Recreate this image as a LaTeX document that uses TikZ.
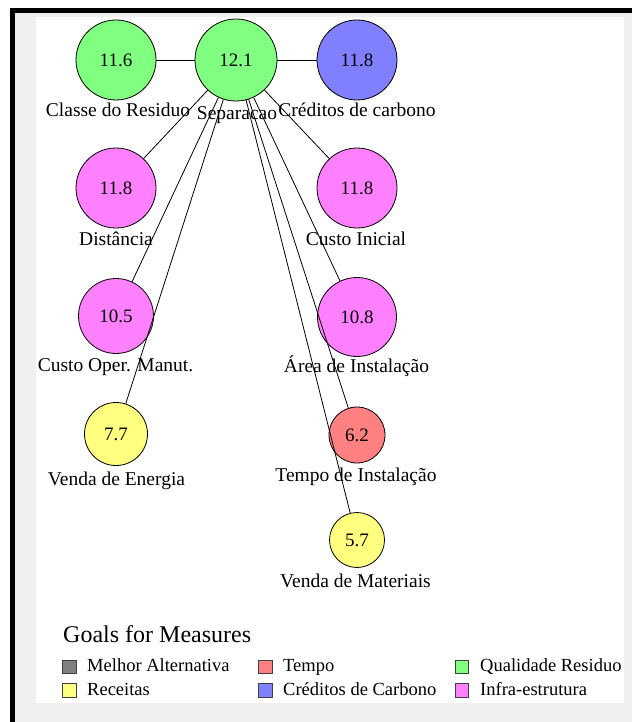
\documentclass[tikz,border=0pt]{standalone}
\usepackage{fontspec}
\setmainfont{Liberation Serif}
\usepackage{tikz}
\usetikzlibrary{positioning,backgrounds}

\definecolor{panelgray}{HTML}{F0F0F0}
\definecolor{goalgreen}{HTML}{80FF80}
\definecolor{goalblue}{HTML}{8080FF}
\definecolor{goalpink}{HTML}{FF80FF}
\definecolor{goalyellow}{HTML}{FFFF80}
\definecolor{goalred}{HTML}{FF8080}
\definecolor{goalgray}{HTML}{808080}

\begin{document}
\begin{tikzpicture}[x=1pt, y=-1pt,
  %% ── Node styles ──────────────────────────────────────────────────────────
  %% meas : one circle per measure, size given per node
  %% lbl  : measure name, placed by its baseline
  meas/.style={circle, draw=black, line width=0.8pt, inner sep=0pt,
               font=\fontsize{19}{22}\selectfont},
  lbl/.style={anchor=base, inner sep=0pt, font=\fontsize{19.5}{22}\selectfont},
  %% ── Legend styles ────────────────────────────────────────────────────────
  key/.style={draw=black!75, line width=1.2pt, minimum size=13.5pt, inner sep=0pt},
  keytxt/.style={anchor=base west, inner sep=0pt, font=\fontsize{18.5}{21}\selectfont},
  %% ── Link style ───────────────────────────────────────────────────────────
  link/.style={black, line width=0.8pt}
]

%% ── Frame: white page, black top/left rule, grey window, white panel ────────
\useasboundingbox (0,0) rectangle (632,722);
\fill[white]     (0,0)   rectangle (632,722);
\fill[panelgray] (10,8)  rectangle (632,722);
\fill[black]     (10,8)  rectangle (632,13);
\fill[black]     (10,8)  rectangle (15,722);
\fill[white]     (36,17) rectangle (624,703);

%% ── TOP ROW  (y = 60) ───────────────────────────────────────────────────────
\node[meas, fill=goalgreen, minimum size=82pt] (sep)  at (236,60) {12.1};
\node[meas, fill=goalgreen, minimum size=80pt] (cls)  at (116,60) {11.6};
\node[meas, fill=goalblue,  minimum size=80pt] (cred) at (357,60) {11.8};

%% ── LEFT COLUMN  (x = 116) ──────────────────────────────────────────────────
\node[meas, fill=goalpink,   minimum size=80pt] (dist) at (116,188) {11.8};
\node[meas, fill=goalpink,   minimum size=75pt] (com)  at (116,316) {10.5};
\node[meas, fill=goalyellow, minimum size=63pt] (ven)  at (116,434) {7.7};

%% ── RIGHT COLUMN  (x = 357) ─────────────────────────────────────────────────
\node[meas, fill=goalpink,   minimum size=80pt] (cini)  at (357,188) {11.8};
\node[meas, fill=goalpink,   minimum size=79pt] (area)  at (357,317) {10.8};
\node[meas, fill=goalred,    minimum size=56pt] (tinst) at (357,435) {6.2};
\node[meas, fill=goalyellow, minimum size=55pt] (vmat)  at (357,540) {5.7};

%% ── Names under the circles ─────────────────────────────────────────────────
\node[lbl] (cls-l)   at (118,117)   {Classe do Residuo};
\node[lbl] (sep-l)   at (237,120)   {Separacao};
\node[lbl] (cred-l)  at (357,117)   {Créditos de carbono};
\node[lbl] (dist-l)  at (116,245)   {Distância};
\node[lbl] (cini-l)  at (356,245)   {Custo Inicial};
\node[lbl] (com-l)   at (115.5,371) {Custo Oper. Manut.};
\node[lbl] (area-l)  at (356.5,372) {Área de Instalação};
\node[lbl] (ven-l)   at (116.5,485) {Venda de Energia};
\node[lbl] (tinst-l) at (356,481)   {Tempo de Instalação};
\node[lbl] (vmat-l)  at (355.5,587) {Venda de Materiais};

%% ── Links: everything hangs off Separacao ───────────────────────────────────
\draw[link] (sep) -- (cls);
\draw[link] (sep) -- (cred);
\draw[link] (sep) -- (dist);
\draw[link] (sep) -- (cini);
\draw[link] (sep) -- (com);
\draw[link] (sep) -- (area);
\draw[link] (sep) -- (ven);
\draw[link] (sep) -- (tinst);
\draw[link] (sep) -- (vmat);

%% ── Legend ──────────────────────────────────────────────────────────────────
\node[anchor=base west, inner sep=0pt, font=\fontsize{24}{28}\selectfont]
  (goals) at (63,642) {Goals for Measures};

%% row 1  (y = 667)
\node[key, fill=goalgray]  (k-best)  at (69.5,667)  {};
\node[keytxt]              (t-best)  at (87,671)    {Melhor Alternativa};
\node[key, fill=goalred]   (k-time)  at (265.5,667) {};
\node[keytxt]              (t-time)  at (283,671)   {Tempo};
\node[key, fill=goalgreen] (k-qual)  at (462,667)   {};
\node[keytxt]              (t-qual)  at (480,671)   {Qualidade Residuo};
%% row 2  (y = 690)
\node[key, fill=goalyellow] (k-rev)  at (69.5,690.5)  {};
\node[keytxt]               (t-rev)  at (87,695)      {Receitas};
\node[key, fill=goalblue]   (k-cred) at (265.5,690.5) {};
\node[keytxt]               (t-cred) at (283,695)     {Créditos de Carbono};
\node[key, fill=goalpink]   (k-infr) at (462,690.5)   {};
\node[keytxt]               (t-infr) at (480,695)     {Infra-estrutura};

\end{tikzpicture}
\end{document}
